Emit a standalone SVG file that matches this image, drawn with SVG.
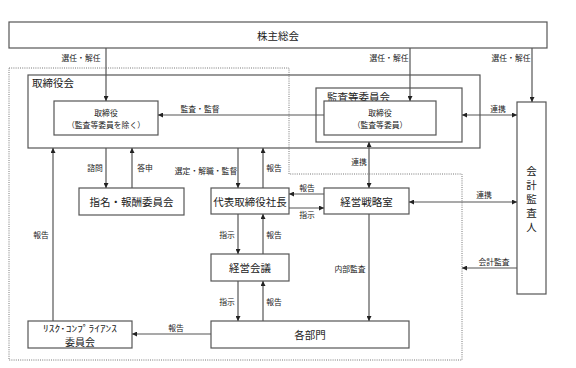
<svg xmlns="http://www.w3.org/2000/svg" width="576" height="368" viewBox="0 0 576 368">
<style>
text{font-family:"Noto Sans CJK JP","Noto Sans",sans-serif;fill:#222;dominant-baseline:central;text-anchor:middle}
.box{fill:#fff;stroke:#555;stroke-width:1.2}
.grp{fill:none;stroke:#555;stroke-width:1.2}
.big{font-size:10.5px}
.sm{font-size:7.8px}
.ln{fill:none;stroke:#555;stroke-width:1.2}
.dot{fill:none;stroke:#777;stroke-width:1;stroke-dasharray:1 1.2}
</style>
<defs>
<marker id="ah" viewBox="0 0 6 6" refX="6" refY="3" markerWidth="5" markerHeight="5" markerUnits="userSpaceOnUse" orient="auto-start-reverse">
<path d="M0,0 L6,3 L0,6 Z" fill="#222"/>
</marker>
</defs>
<rect width="576" height="368" fill="#fff"/>
<path class="dot" d="M9,68 H289 V174 H462 V360 H9 Z"/>

<g id="shareholders">
<rect class="box" x="9" y="22" width="538" height="26"/>
<text class="big" x="278" y="35">株主総会</text>
</g>

<g id="board">
<rect class="grp" x="28" y="75" width="452" height="73"/>
<text class="big" x="32" y="82" style="text-anchor:start">取締役会</text>
</g>

<g id="directors">
<rect class="box" x="54" y="101" width="104" height="34"/>
<text class="sm" x="106" y="112">取締役</text>
<text class="sm" x="106" y="124">（監査等委員を除く）</text>
</g>

<g id="audit-committee">
<rect class="grp" x="316" y="88" width="146" height="54"/>
<text class="big" x="327" y="96" style="text-anchor:start">監査等委員会</text>
</g>

<g id="audit-directors">
<rect class="box" x="324" y="101" width="112" height="34"/>
<text class="sm" x="380" y="112">取締役</text>
<text class="sm" x="380" y="124">（監査等委員）</text>
</g>

<g id="auditor">
<rect class="box" x="517" y="102" width="29" height="192"/>
<text class="big" x="531.5" y="170">会</text>
<text class="big" x="531.5" y="184">計</text>
<text class="big" x="531.5" y="198">監</text>
<text class="big" x="531.5" y="212">査</text>
<text class="big" x="531.5" y="226">人</text>
</g>

<g id="nomination">
<rect class="box" x="79" y="188" width="105" height="27"/>
<text class="big" x="131.5" y="201.5">指名・報酬委員会</text>
</g>

<g id="president">
<rect class="box" x="211" y="188" width="78" height="26"/>
<text class="big" x="250" y="201">代表取締役社長</text>
</g>

<g id="strategy">
<rect class="box" x="324" y="188" width="85" height="26"/>
<text class="big" x="366.5" y="201">経営戦略室</text>
</g>

<g id="mgmt-meeting">
<rect class="box" x="211" y="254" width="78" height="27"/>
<text class="big" x="250" y="267.5">経営会議</text>
</g>

<g id="departments">
<rect class="box" x="211" y="321" width="198" height="27"/>
<text class="big" x="310" y="334.5">各部門</text>
</g>

<g id="risk">
<rect class="box" x="28" y="321" width="104" height="27"/>
<text x="80" y="328.5" style="font-size:9px" textLength="74" lengthAdjust="spacingAndGlyphs">ﾘｽｸ･ｺﾝﾌﾟﾗｲｱﾝｽ</text>
<text class="big" x="80" y="341" style="font-size:10px">委員会</text>
</g>

<g id="connectors">
<line class="ln" x1="106" y1="48" x2="106" y2="101" marker-end="url(#ah)"/>
<line class="ln" x1="410" y1="48" x2="410" y2="101" marker-end="url(#ah)"/>
<line class="ln" x1="532" y1="48" x2="532" y2="102" marker-end="url(#ah)"/>
<line class="ln" x1="324" y1="115" x2="158" y2="115" marker-end="url(#ah)"/>
<line class="ln" x1="462" y1="115" x2="517" y2="115" marker-start="url(#ah)" marker-end="url(#ah)"/>
<line class="ln" x1="369" y1="142" x2="369" y2="188" marker-start="url(#ah)" marker-end="url(#ah)"/>
<line class="ln" x1="106" y1="148" x2="106" y2="188" marker-end="url(#ah)"/>
<line class="ln" x1="132" y1="188" x2="132" y2="148" marker-end="url(#ah)"/>
<line class="ln" x1="238" y1="148" x2="238" y2="188" marker-end="url(#ah)"/>
<line class="ln" x1="263" y1="188" x2="263" y2="148" marker-end="url(#ah)"/>
<line class="ln" x1="324" y1="194" x2="289" y2="194" marker-end="url(#ah)"/>
<line class="ln" x1="289" y1="208" x2="324" y2="208" marker-end="url(#ah)"/>
<line class="ln" x1="409" y1="202" x2="517" y2="202" marker-start="url(#ah)" marker-end="url(#ah)"/>
<line class="ln" x1="238" y1="214" x2="238" y2="254" marker-end="url(#ah)"/>
<line class="ln" x1="263" y1="254" x2="263" y2="214" marker-end="url(#ah)"/>
<line class="ln" x1="238" y1="281" x2="238" y2="321" marker-end="url(#ah)"/>
<line class="ln" x1="263" y1="321" x2="263" y2="281" marker-end="url(#ah)"/>
<line class="ln" x1="369" y1="214" x2="369" y2="321" marker-end="url(#ah)"/>
<line class="ln" x1="517" y1="268" x2="462" y2="268" marker-end="url(#ah)"/>
<line class="ln" x1="211" y1="334" x2="132" y2="334" marker-end="url(#ah)"/>
<line class="ln" x1="53" y1="321" x2="53" y2="148" marker-end="url(#ah)"/>
</g>

<g id="labels">
<text class="sm" x="81" y="57">選任・解任</text>
<text class="sm" x="389" y="57">選任・解任</text>
<text class="sm" x="511" y="57">選任・解任</text>
<text class="sm" x="200" y="108">監査・監督</text>
<text class="sm" x="498" y="108">連携</text>
<text class="sm" x="359" y="161">連携</text>
<text class="sm" x="484" y="194">連携</text>
<text class="sm" x="95" y="167">諮問</text>
<text class="sm" x="145" y="167">答申</text>
<text class="sm" x="206" y="170">選定・解職・監督</text>
<text class="sm" x="274" y="167">報告</text>
<text class="sm" x="307" y="187">報告</text>
<text class="sm" x="307" y="214">指示</text>
<text class="sm" x="227" y="234">指示</text>
<text class="sm" x="274" y="234">報告</text>
<text class="sm" x="41" y="234">報告</text>
<text class="sm" x="227" y="301">指示</text>
<text class="sm" x="274" y="301">報告</text>
<text class="sm" x="176" y="327">報告</text>
<text class="sm" x="350" y="268">内部監査</text>
<text class="sm" x="494" y="261">会計監査</text>
</g>
</svg>
